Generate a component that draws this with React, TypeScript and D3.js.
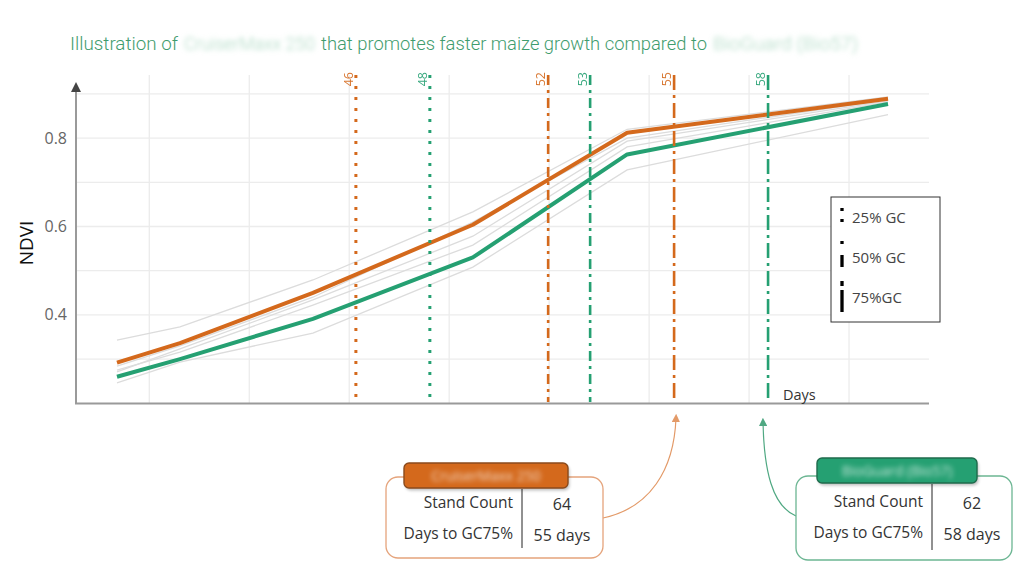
import React from "react";
import * as d3 from "d3";

// ---- data ----
const obsDays = [39.03, 40.92, 44.91, 49.71, 54.34, 62.17];
const ndviProduct = [0.292, 0.336, 0.45, 0.604, 0.812, 0.889];
const ndviCheck = [0.26, 0.3, 0.391, 0.53, 0.763, 0.877];
const ndviOther1 = [0.343, 0.373, 0.479, 0.633, 0.82, 0.893];
const ndviOther2 = [0.275, 0.316, 0.422, 0.558, 0.78, 0.882];
const ndviOther3 = [0.271, 0.323, 0.434, 0.578, 0.793, 0.884];
const ndviOther4 = [0.284, 0.33, 0.44, 0.61, 0.8, 0.887];
const ndviOther5 = [0.246, 0.293, 0.359, 0.508, 0.728, 0.853];

const gcLabels = ["46", "48", "52", "53", "55", "58"];
const gcDays = [46.2, 48.42, 51.97, 53.23, 55.75, 58.57];
const gcSeries = ["product", "check", "product", "check", "product", "check"];
const gcLevels = [25, 25, 50, 50, 75, 75];

const yTicks = [0.4, 0.6, 0.8];
const yGrid = [0.3, 0.4, 0.5, 0.6, 0.7, 0.8, 0.9];
const xGrid = [40, 43, 46, 49, 52, 55, 58, 61];

const legendLabels = ["25% GC", "50% GC", "75%GC"];
const rowLabels = ["Stand Count", "Days to GC75%"];
const productValues = ["64", "55 days"];
const checkValues = ["62", "58 days"];
const productName = "CruiserMaxx 250";
const checkName = "BioGuard (Bio57)";

const ORANGE = "#d4691c";
const GREEN = "#25a072";
const FONT = "'Open Sans', 'Noto Sans', sans-serif";

export default function App() {
  const x = d3.scaleLinear().domain([37.8, 63.4]).range([76, 929]);
  const y = d3.scaleLinear().domain([0.2, 0.9]).range([403.3, 93.9]);
  const line = d3
    .line<number>()
    .x((_, i) => x(obsDays[i]))
    .y((d) => y(d));

  const grays = [ndviOther1, ndviOther2, ndviOther3, ndviOther4, ndviOther5];
  const dashFor = (lvl: number) =>
    lvl === 25 ? "3,8" : lvl === 50 ? "10,5,3,5" : "15,5,3,5";

  const box = (
    bx: number,
    by: number,
    bw: number,
    bh: number,
    color: string,
    border: string,
    pillBorder: string,
    pillX: number,
    pillY: number,
    pillW: number,
    name: string,
    divX: number,
    values: string[],
    key: string
  ) => (
    <g key={key}>
      <rect x={bx} y={by} width={bw} height={bh} rx={12} fill="#fff" stroke={border} strokeWidth={1.3} />
      <rect x={pillX + 1.5} y={pillY + 2.5} width={pillW} height={25} rx={5} fill="#000" opacity={0.25} filter="url(#soft)" />
      <rect x={pillX} y={pillY} width={pillW} height={25} rx={5} fill={color} stroke={pillBorder} strokeWidth={1.4} />
      <text x={pillX + pillW / 2} y={pillY + 18} textAnchor="middle" fontFamily={FONT} fontSize={14} fill="#fff" opacity={0.75} filter="url(#blur)">
        {name}
      </text>
      <line x1={divX} x2={divX} y1={pillY + 26} y2={by + bh - 10} stroke="#222" strokeWidth={1} />
      {rowLabels.map((r, i) => (
        <text key={r} x={divX - 9} y={by + 31 + i * 31} textAnchor="end" fontFamily={FONT} fontSize={15.5} fill="#333">
          {r}
        </text>
      ))}
      {values.map((v, i) => (
        <text key={v} x={divX + 40} y={by + 33 + i * 31} textAnchor="middle" fontFamily={FONT} fontSize={16} fill="#333">
          {v}
        </text>
      ))}
    </g>
  );

  return (
    <svg width={1024} height={577} style={{ position: "absolute", left: 0, top: 0, background: "#fff" }}>
      <defs>
        <filter id="blur" x="-20%" y="-50%" width="140%" height="200%">
          <feGaussianBlur stdDeviation={2.6} />
        </filter>
        <filter id="soft" x="-20%" y="-50%" width="140%" height="200%">
          <feGaussianBlur stdDeviation={1.5} />
        </filter>
        <marker id="arrO" viewBox="0 0 10 10" refX={5} refY={5} markerWidth={7} markerHeight={7} orient="auto">
          <path d="M0,0 L10,5 L0,10 z" fill="#e39a68" />
        </marker>
        <marker id="arrG" viewBox="0 0 10 10" refX={5} refY={5} markerWidth={7} markerHeight={7} orient="auto">
          <path d="M0,0 L10,5 L0,10 z" fill="#4fa882" />
        </marker>
      </defs>

      {/* title */}
      <g fontFamily="'Liberation Sans Narrow', 'Roboto', sans-serif" fontWeight={300} fontSize={17.5} fill="#3f9c6e">
        <text x={70} y={50} textLength={108} lengthAdjust="spacingAndGlyphs">Illustration of</text>
        <text x={184} y={50} textLength={131} lengthAdjust="spacingAndGlyphs" fill="#a9d7c0" filter="url(#blur)">{productName}</text>
        <text x={321} y={50} textLength={386} lengthAdjust="spacingAndGlyphs">that promotes faster maize growth compared to</text>
        <text x={713} y={50} textLength={145} lengthAdjust="spacingAndGlyphs" fill="#a9d7c0" filter="url(#blur)">{checkName}</text>
      </g>

      {/* grid */}
      {yGrid.map((v) => (
        <line key={"hy" + v} x1={76} x2={929} y1={y(v)} y2={y(v)} stroke="#ececec" strokeWidth={1.3} />
      ))}
      {xGrid.map((d) => (
        <line key={"vx" + d} x1={x(d)} x2={x(d)} y1={75} y2={403} stroke="#ececec" strokeWidth={1.3} />
      ))}

      {/* axes */}
      <line x1={76} x2={76} y1={88} y2={404} stroke="#9a9a9a" strokeWidth={2} />
      <path d="M71,92 L76,82 L81,92 Z" fill="#444" />
      <line x1={75} x2={929} y1={403.5} y2={403.5} stroke="#9a9a9a" strokeWidth={2} />
      {yTicks.map((v) => (
        <text key={"t" + v} x={67} y={y(v) + 5.5} textAnchor="end" fontFamily={FONT} fontSize={16} fill="#666">
          {v.toFixed(1)}
        </text>
      ))}
      <text transform="translate(33,243) rotate(-90)" textAnchor="middle" fontFamily={FONT} fontSize={19} fill="#111">
        NDVI
      </text>
      <text x={783} y={400} fontFamily={FONT} fontSize={14.5} fill="#333">
        Days
      </text>

      {/* series */}
      {grays.map((g, i) => (
        <path key={"g" + i} d={line(g) || ""} fill="none" stroke="#dcdcdc" strokeWidth={1.3} />
      ))}
      <path d={line(ndviCheck) || ""} fill="none" stroke={GREEN} strokeWidth={4} strokeLinejoin="round" />
      <path d={line(ndviProduct) || ""} fill="none" stroke={ORANGE} strokeWidth={4} strokeLinejoin="round" />

      {/* GC markers */}
      {gcDays.map((d, i) => {
        const c = gcSeries[i] === "product" ? ORANGE : GREEN;
        const lx = x(d);
        return (
          <g key={"gc" + i}>
            <line x1={lx} x2={lx} y1={75} y2={402} stroke={c} strokeWidth={gcLevels[i] === 25 ? 3 : 2.6} strokeDasharray={dashFor(gcLevels[i])} />
            <text transform={`translate(${lx - 3},72) rotate(-90)`} textAnchor="end" fontFamily={FONT} fontSize={12.5} fill={c} opacity={0.9}>
              {gcLabels[i]}
            </text>
          </g>
        );
      })}

      {/* legend */}
      <g>
        <rect x={831} y={197} width={109} height={125} fill="#fff" stroke="#333" strokeWidth={1} />
        {legendLabels.map((l, i) => (
          <text key={l} x={852} y={223 + i * 40} fontFamily={FONT} fontSize={15} fill="#444">
            {l}
          </text>
        ))}
        <line x1={842} x2={842} y1={208} y2={224} stroke="#000" strokeWidth={3.3} strokeDasharray="3,8" />
        <line x1={842} x2={842} y1={241} y2={267} stroke="#000" strokeWidth={3.3} strokeDasharray="3,11,12,5" />
        <line x1={842} x2={842} y1={281} y2={312} stroke="#000" strokeWidth={3.3} strokeDasharray="5,4,22,5" />
      </g>

      {/* annotation arrows */}
      <path d="M603,518 C650,508 674,470 676,418" fill="none" stroke="#e39a68" strokeWidth={1.2} markerEnd="url(#arrO)" />
      <path d="M796,516 C772,506 764,470 763,422" fill="none" stroke="#4fa882" strokeWidth={1.2} markerEnd="url(#arrG)" />

      {/* info boxes */}
      {box(386, 477, 217, 81, ORANGE, "#e5a47c", "#8a4a1c", 404, 463, 164, productName, 522, productValues, "bp")}
      {box(796, 476, 216, 84, GREEN, "#6cb693", "#1f6b4c", 817, 458, 160, checkName, 932, checkValues, "bc")}
    </svg>
  );
}
